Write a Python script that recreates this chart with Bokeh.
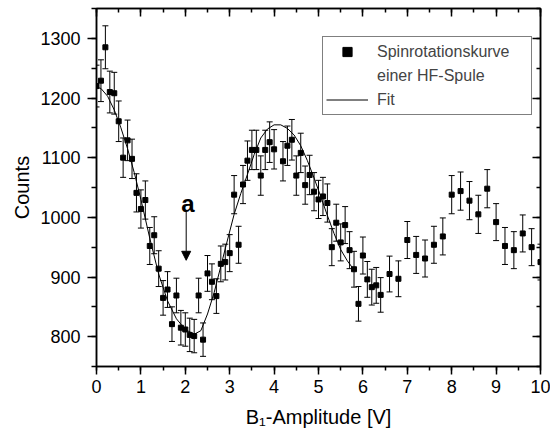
import numpy as np
from bokeh.plotting import figure
from bokeh.models import (ColumnDataSource, Whisker, TeeHead, LinearAxis, Range1d, Legend,
                          LegendItem, Label, Arrow, NormalHead, CustomJSTickFormatter,
                          SingleIntervalTicker)
from bokeh.embed import file_html
from bokeh.resources import INLINE

# ---- data ----
amplitude = [0.0, 0.1, 0.2, 0.3, 0.4, 0.5, 0.6, 0.7, 0.8, 0.9,
             1.0, 1.1, 1.2, 1.3, 1.4, 1.5, 1.6, 1.7, 1.8, 1.9,
             2.0, 2.1, 2.2, 2.3, 2.4, 2.5, 2.6, 2.7, 2.8, 2.9,
             3.0, 3.1, 3.2, 3.3, 3.4, 3.5, 3.6, 3.7, 3.8, 3.9,
             4.0, 4.2, 4.3, 4.4, 4.5, 4.6, 4.7, 4.8, 4.9,
             5.0, 5.1, 5.2, 5.3, 5.4, 5.5, 5.6, 5.7, 5.8, 5.9,
             6.0, 6.1, 6.2, 6.3, 6.4, 6.6, 6.8,
             7.0, 7.2, 7.4, 7.6, 7.8, 8.0, 8.2, 8.4, 8.6, 8.8,
             9.0, 9.2, 9.4, 9.6, 9.8, 10.0]
counts = [1220, 1229, 1285, 1210, 1208, 1161, 1100, 1129, 1098, 1041,
          1014, 1029, 952, 970, 914, 865, 879, 821, 869, 815,
          812, 803, 801, 869, 795, 906, 892, 868, 922, 925,
          940, 1038, 954, 1055, 1095, 1113, 1113, 1070, 1113, 1126,
          1114, 1094, 1120, 1130, 1070, 1108, 1054, 1071, 1043,
          1030, 1035, 1024, 950, 991, 958, 987, 945, 913, 855,
          936, 896, 883, 886, 870, 905, 897,
          962, 937, 931, 954, 968, 1038, 1044, 1028, 1005, 1048,
          992, 952, 945, 973, 950, 925]
count_errors = [35, 35, 36, 35, 35, 34, 33, 34, 33, 32,
                32, 32, 31, 31, 30, 29, 30, 29, 29, 29,
                28, 28, 28, 29, 28, 30, 30, 29, 30, 30,
                31, 32, 31, 32, 33, 33, 33, 33, 33, 34,
                33, 33, 33, 34, 33, 33, 32, 33, 32,
                32, 32, 32, 31, 31, 31, 31, 31, 30, 29,
                31, 30, 30, 30, 29, 30, 30,
                31, 31, 31, 31, 31, 32, 32, 32, 32, 32,
                31, 31, 31, 31, 31, 30]

fit_x = [0.0, 0.1, 0.25, 0.4, 0.55, 0.7, 0.85, 1.0, 1.2, 1.4, 1.6, 1.8, 2.0, 2.2,
         2.35, 2.5, 2.65, 2.8, 2.95, 3.1, 3.25, 3.4, 3.55, 3.7, 3.85, 4.0, 4.15,
         4.3, 4.45, 4.6, 4.75, 4.9, 5.05, 5.2, 5.35, 5.5, 5.65, 5.8]
fit_y = [1218, 1216, 1203, 1180, 1150, 1115, 1075, 1030, 965, 905, 860, 830, 812, 804,
         810, 838, 874, 918, 962, 1005, 1040, 1072, 1105, 1133, 1148, 1155, 1155,
         1149, 1138, 1120, 1095, 1066, 1035, 1003, 973, 946, 927, 912]

x_ticks_interval = 1
y_ticks_interval = 100
series_label_1 = "Spinrotationskurve"
series_label_2 = "einer HF-Spule"
fit_label = "Fit"
x_title = "B\u2081-Amplitude [V]"
y_title = "Counts"
marker_text = "a"
marker_pos = (2.06, 1024)
arrow_start = (2.02, 1010)
arrow_end = (2.02, 928)

FONT = "Liberation Sans"

src = ColumnDataSource(dict(
    x=amplitude, y=counts,
    upper=[c + e for c, e in zip(counts, count_errors)],
    lower=[c - e for c, e in zip(counts, count_errors)],
))

p = figure(width=550, height=438, output_backend="svg", toolbar_location=None,
           x_range=Range1d(0, 10), y_range=Range1d(750, 1350),
           min_border_left=96, min_border_top=8, min_border_right=10, min_border_bottom=72,
           background_fill_color="white", border_fill_color="white")
p.xgrid.visible = False
p.ygrid.visible = False
p.outline_line_color = "black"
p.outline_line_width = 1.5

# error bars
wh = Whisker(source=src, base="x", upper="upper", lower="lower",
             line_color="black", line_width=1,
             upper_head=TeeHead(size=6, line_color="black", line_width=1),
             lower_head=TeeHead(size=6, line_color="black", line_width=1))
p.add_layout(wh)

pts = p.scatter("x", "y", source=src, marker="square", size=5,
                fill_color="black", line_color="black")
fit = p.line(fit_x, fit_y, line_color="black", line_width=1)
# invisible helper renderer used only for the second legend line
blank_r = p.scatter([], [], size=0, fill_alpha=0, line_alpha=0)

# axes
def style_main(ax):
    ax.axis_line_width = 1.5
    ax.major_tick_line_width = 1.5
    ax.minor_tick_line_width = 1.5
    ax.major_label_text_font = FONT
    ax.major_label_text_font_size = "18px"
    ax.major_label_text_color = "black"
    ax.axis_label_text_font = FONT
    ax.axis_label_text_font_size = "20px"
    ax.axis_label_text_font_style = "normal"
    ax.axis_label_text_color = "black"

xa = p.xaxis[0]
xa.ticker = SingleIntervalTicker(interval=x_ticks_interval, num_minor_ticks=2)
style_main(xa)
xa.major_tick_out = 8
xa.major_tick_in = 0
xa.minor_tick_out = 4
xa.minor_tick_in = 0
xa.major_label_standoff = 5
xa.axis_label = x_title
xa.axis_label_standoff = 10

ya = p.yaxis[0]
ya.ticker = SingleIntervalTicker(interval=y_ticks_interval, num_minor_ticks=2)
style_main(ya)
ya.major_tick_out = 9
ya.major_tick_in = 0
ya.minor_tick_out = 5
ya.minor_tick_in = 0
ya.major_label_standoff = 7
ya.axis_label = y_title
ya.axis_label_standoff = 4

blank = CustomJSTickFormatter(code="return ''")
for loc, tick in (("above", SingleIntervalTicker(interval=x_ticks_interval, num_minor_ticks=2)),
                  ("right", SingleIntervalTicker(interval=y_ticks_interval, num_minor_ticks=2))):
    ax = LinearAxis(ticker=tick, formatter=blank, major_tick_in=8, major_tick_out=0,
                    minor_tick_in=4, minor_tick_out=0, axis_line_width=1.5,
                    major_tick_line_width=1.5, minor_tick_line_width=1.5,
                    major_label_text_font_size="0px", major_label_standoff=0)
    p.add_layout(ax, loc)

# annotation "a" with arrow
p.add_layout(Label(x=marker_pos[0], y=marker_pos[1], text=marker_text, text_font=FONT,
                   text_font_size="24px", text_font_style="bold", text_align="center",
                   text_baseline="alphabetic", text_color="black"))
p.add_layout(Arrow(x_start=arrow_start[0], y_start=arrow_start[1],
                   x_end=arrow_end[0], y_end=arrow_end[1], line_width=1, line_color="black",
                   end=NormalHead(size=9, fill_color="black", line_color="black")))

legend = Legend(items=[LegendItem(label=series_label_1, renderers=[pts]),
                       LegendItem(label=series_label_2, renderers=[blank_r]),
                       LegendItem(label=fit_label, renderers=[fit])],
                location=(226, 251), label_text_font=FONT, label_text_font_size="16px",
                glyph_width=42, glyph_height=23, label_height=23, label_width=151,
                label_standoff=9, padding=3, margin=0, spacing=1,
                border_line_color="black", border_line_width=1,
                background_fill_color="white", background_fill_alpha=1)
p.add_layout(legend, "center")

open("out.html", "w").write(file_html(p, INLINE))
